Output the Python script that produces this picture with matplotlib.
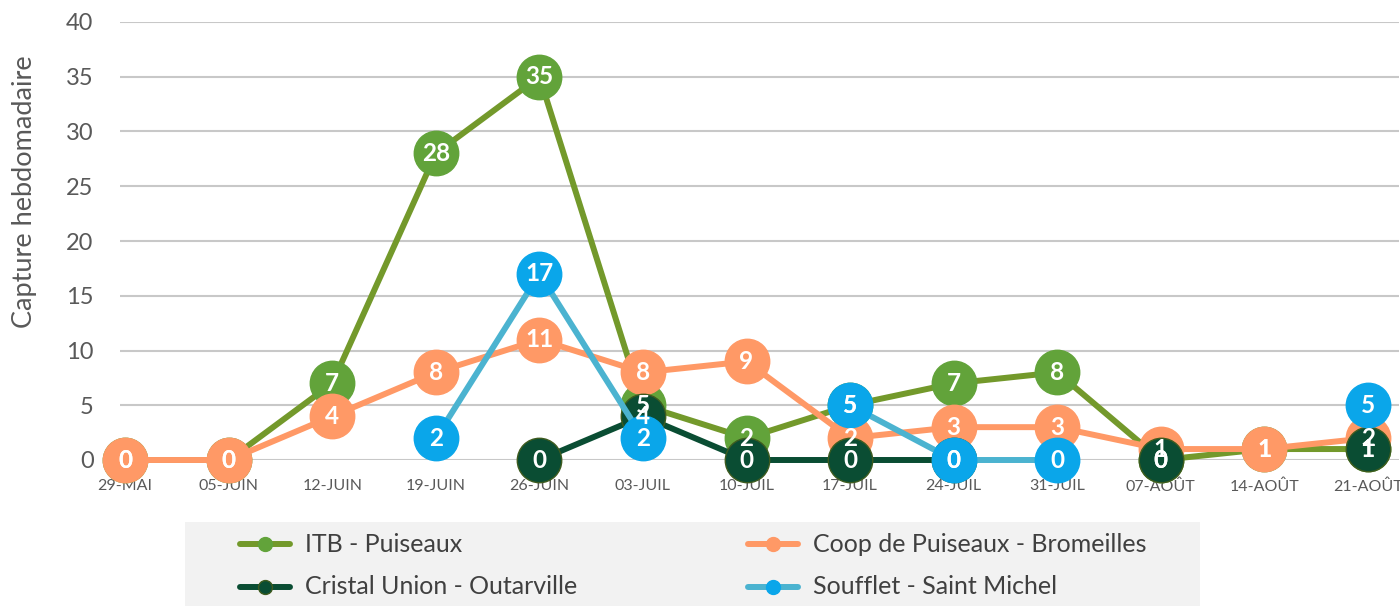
import matplotlib
matplotlib.use("Agg")
import matplotlib.pyplot as plt
from matplotlib.lines import Line2D
from matplotlib.patches import Rectangle
import numpy as np

categories = ["29-MAI", "05-JUIN", "12-JUIN", "19-JUIN", "26-JUIN", "03-JUIL", "10-JUIL",
              "17-JUIL", "24-JUIL", "31-JUIL", "07-AOÛT", "14-AOÛT", "21-AOÛT"]
itb = [0, 0, 7, 28, 35, 5, 2, 5, 7, 8, 0, 1, 1]
coop = [0, 0, 4, 8, 11, 8, 9, 2, 3, 3, 1, 1, 2]
cristal = [None, None, None, None, 0, 4, 0, 0, 0, None, 0, None, 1]
soufflet = [None, None, None, 2, 17, 2, None, 5, 0, 0, None, None, 5]

series = [
    ("ITB - Puiseaux", itb, "#73992B", "#62A33A", "#62A33A"),
    ("Coop de Puiseaux - Bromeilles", coop, "#FF9966", "#FF9966", "#FF9966"),
    ("Cristal Union - Outarville", cristal, "#0A4D33", "#0A4D33", "#3E5B1F"),
    ("Soufflet - Saint Michel", soufflet, "#4BB3D0", "#0AA6EA", "#0AA6EA"),
]

W, H = 1400, 606
plt.rcParams['font.family'] = ['Lato', 'DejaVu Sans']
fig = plt.figure(figsize=(W/100, H/100), dpi=100)
ax = fig.add_axes([120/W, 146/H, 1279/W, 438/H])
x = np.arange(len(categories))

for i, (name, vals, lc, mfc, mec) in enumerate(series):
    y = np.array([np.nan if v is None else v for v in vals], dtype=float)
    ax.plot(x, y, color=lc, lw=4.3, marker='o', ms=32, mfc=mfc, mec=mec,
            mew=1, clip_on=False, zorder=3 + i, solid_capstyle='round')

for i, (name, vals, lc, mfc, mec) in enumerate(series):
    for xi, v in zip(x, vals):
        if v is None:
            continue
        ax.text(xi, v, str(v), ha='center', va='center', color='white',
                fontsize=17.5, fontweight='bold', zorder=20, clip_on=False)

ax.set_ylim(0, 40)
ax.set_xlim(-0.05, 12.3)
ax.set_yticks(range(0, 41, 5))
ax.set_xticks(x)
ax.set_xticklabels(categories, fontsize=11.5, color='#595959')
ax.tick_params(axis='y', labelsize=17, labelcolor='#595959', length=0, pad=19)
ax.tick_params(axis='x', length=0, pad=14)
ax.grid(axis='y', color='#C8C8C8', lw=1.5)
ax.set_axisbelow(True)
for s in ax.spines.values():
    s.set_visible(False)
fig.text(25/W, 1 - 192/H, "Capture hebdomadaire", rotation=90, ha='center', va='center',
         fontsize=19.5, color='#595959')

# legend box
fig.patches.append(Rectangle((185/W, 0), 1015/W, 84/H, transform=fig.transFigure,
                             facecolor='#F2F2F2', edgecolor='none', zorder=0))
leg_pos = [(240, 544), (748, 544), (240, 587), (748, 587)]
for (name, vals, lc, mfc, mec), (lx, ly) in zip(series, leg_pos):
    yy = 1 - ly/H
    fig.lines.append(Line2D([lx/W, (lx + 50)/W], [yy, yy], transform=fig.transFigure,
                            color=lc, lw=4.3, solid_capstyle='round'))
    fig.lines.append(Line2D([(lx + 25)/W], [yy], transform=fig.transFigure, marker='o',
                            ms=10, mfc=mfc, mec=mec, lw=0))
    fig.text((lx + 65)/W, yy, name, ha='left', va='center', fontsize=18, color='#404040')

fig.savefig("out.png", dpi=100)
